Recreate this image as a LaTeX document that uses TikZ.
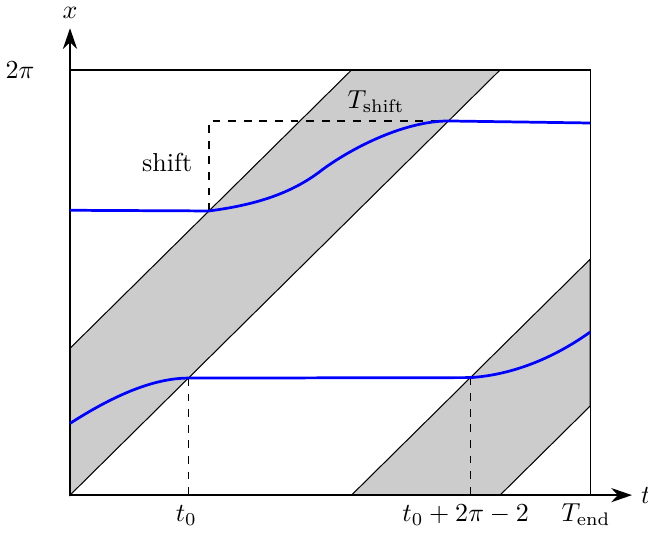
\documentclass[tikz,border=0pt]{standalone}
\usepackage{amsmath, amssymb}
\usepackage{tikz}
\usetikzlibrary{arrows.meta}

\begin{document}
\begin{tikzpicture}[
  x=26.32pt, y=26.02pt,
  axis/.style={-{Stealth[length=8pt, width=5.5pt]}, line width=0.5pt},
  band/.style={fill=black!20, draw=black, line width=0.4pt},
  frame/.style={draw=black, line width=0.5pt},
  traj/.style={draw=blue, line width=1.05pt},
  guide/.style={dashed, line width=0.5pt},
  lab/.style={anchor=base, inner sep=0pt},
]
\useasboundingbox (-1.023,-0.621) rectangle (8.445,7.318);
% domain and key points
\coordinate (O) at (0,0);
\coordinate (TR) at (7.6,2*pi);
\coordinate (pA) at (2.03,4.20);
\coordinate (pB) at (5.53,5.53);
\coordinate (pC) at (1.73,1.73);
\coordinate (pD) at (5.85,1.737);
\coordinate (pK) at (pA |- pB);
% grey bands
\path[band] (0,0) -- (2*pi,2*pi) -- (4.113,2*pi) -- (0,2.17) -- cycle;
\path[band] (4.113,0) -- (7.6,3.487) -- (7.6,1.317) -- (2*pi,0) -- cycle;
\draw[frame] (O) rectangle (TR);
% axes
\draw[axis] (O) -- (8.21,0) node[right] (lblt) {$t$};
\draw[axis] (O) -- (0,6.90) node[above] (lblx) {$x$};
\node (lbl2pi) at (-0.73,2*pi) {$2\pi$};
% guides
\draw[guide] (pA) -- (pK) -- (pB);
\draw[guide] (pC) -- (pC |- O);
\draw[guide] (pD) -- (pD |- O);
% trajectories
\draw[traj] (0,4.21) -- (pA)
  .. controls (2.8,4.3) and (3.3,4.5) .. (3.7,4.82)
  .. controls (4.15,5.15) and (4.9,5.53) .. (pB) -- (7.6,5.50);
\draw[traj] (0,1.06) .. controls (0.6,1.45) and (1.2,1.73) .. (pC)
  -- (pD) .. controls (6.5,1.78) and (7.1,2.05) .. (7.6,2.41);
% labels
\node (lblshift) at (1.42,4.91) {shift};
\node (lblTs) at (4.47,5.82) {$T_{\text{shift}}$};
\node[lab] (lblt0) at (1.70,-0.385) {$t_0$};
\node[lab] (lblt2) at (5.78,-0.385) {$t_0+2\pi-2$};
\node[lab] (lblTe) at (7.54,-0.385) {$T_{\text{end}}$};
\end{tikzpicture}
\end{document}
